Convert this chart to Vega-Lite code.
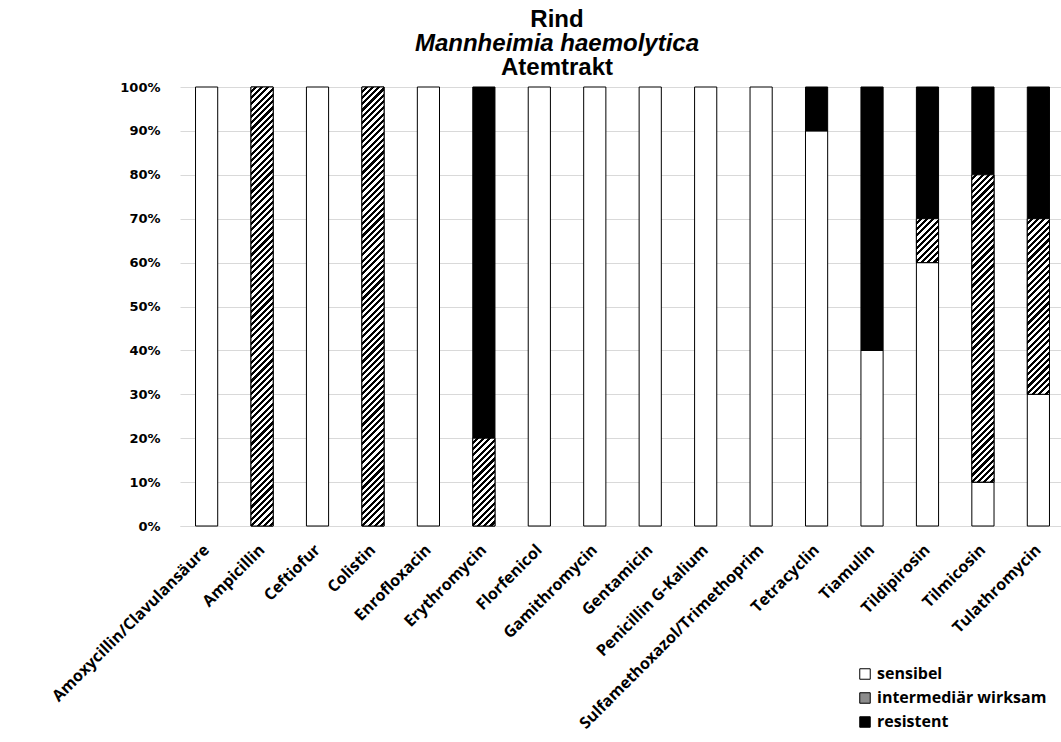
{
"$schema": "https://vega.github.io/schema/vega-lite/v6.json",
"padding": {"left": 49, "top": 8, "right": 0, "bottom": 0},
"background": "#ffffff",
"title": {"text": "Rind", "subtitle": "Mannheimia haemolytica", "anchor": "middle", "frame": "bounds", "font": "Liberation Sans", "fontSize": 24, "fontWeight": "bold", "color": "#000000", "subtitleFont": "Liberation Sans", "subtitleFontSize": 24, "subtitleFontStyle": "italic", "subtitleFontWeight": "bold", "subtitleColor": "#000000", "subtitlePadding": 0, "offset": 0},
"data": {"values": [
{"drug": "Amoxycillin/Clavulansäure", "cat": "sensibel", "k": 1, "p": 1},
{"drug": "Ampicillin", "cat": "intermediär wirksam", "k": 2, "p": 1},
{"drug": "Ceftiofur", "cat": "sensibel", "k": 1, "p": 1},
{"drug": "Colistin", "cat": "intermediär wirksam", "k": 2, "p": 1},
{"drug": "Enrofloxacin", "cat": "sensibel", "k": 1, "p": 1},
{"drug": "Erythromycin", "cat": "intermediär wirksam", "k": 2, "p": 0.2},
{"drug": "Erythromycin", "cat": "resistent", "k": 3, "p": 0.8},
{"drug": "Florfenicol", "cat": "sensibel", "k": 1, "p": 1},
{"drug": "Gamithromycin", "cat": "sensibel", "k": 1, "p": 1},
{"drug": "Gentamicin", "cat": "sensibel", "k": 1, "p": 1},
{"drug": "Penicillin G-Kalium", "cat": "sensibel", "k": 1, "p": 1},
{"drug": "Sulfamethoxazol/Trimethoprim", "cat": "sensibel", "k": 1, "p": 1},
{"drug": "Tetracyclin", "cat": "sensibel", "k": 1, "p": 0.9},
{"drug": "Tetracyclin", "cat": "resistent", "k": 3, "p": 0.1},
{"drug": "Tiamulin", "cat": "sensibel", "k": 1, "p": 0.4},
{"drug": "Tiamulin", "cat": "resistent", "k": 3, "p": 0.6},
{"drug": "Tildipirosin", "cat": "sensibel", "k": 1, "p": 0.6},
{"drug": "Tildipirosin", "cat": "intermediär wirksam", "k": 2, "p": 0.1},
{"drug": "Tildipirosin", "cat": "resistent", "k": 3, "p": 0.3},
{"drug": "Tilmicosin", "cat": "sensibel", "k": 1, "p": 0.1},
{"drug": "Tilmicosin", "cat": "intermediär wirksam", "k": 2, "p": 0.7},
{"drug": "Tilmicosin", "cat": "resistent", "k": 3, "p": 0.2},
{"drug": "Tulathromycin", "cat": "sensibel", "k": 1, "p": 0.3},
{"drug": "Tulathromycin", "cat": "intermediär wirksam", "k": 2, "p": 0.4},
{"drug": "Tulathromycin", "cat": "resistent", "k": 3, "p": 0.3}
]},
"vconcat": [{
"title": {"text": "Atemtrakt", "anchor": "middle", "frame": "bounds", "font": "Liberation Sans", "fontSize": 24, "fontWeight": "bold", "color": "#000000", "offset": 1},
"width": 885,
"height": 439,
"transform": [{"stack": "p", "groupby": ["drug"], "sort": [{"field": "k", "order": "ascending"}], "as": ["p0", "p1"]}],
"encoding": {
"x": {"field": "drug", "type": "nominal", "sort": ["Amoxycillin/Clavulansäure", "Ampicillin", "Ceftiofur", "Colistin", "Enrofloxacin", "Erythromycin", "Florfenicol", "Gamithromycin", "Gentamicin", "Penicillin G-Kalium", "Sulfamethoxazol/Trimethoprim", "Tetracyclin", "Tiamulin", "Tildipirosin", "Tilmicosin", "Tulathromycin"], "scale": {"paddingInner": 0.6, "paddingOuter": 0.28}, "axis": {"title": null, "labelAngle": -45, "labelAlign": "right", "labelBaseline": "middle", "labelFont": "Open Sans", "labelFontSize": 16, "labelFontWeight": "bold", "labelColor": "#000000", "labelPadding": 21, "labelLimit": 500, "labelOverlap": false, "labelBound": false, "ticks": false, "domain": true, "domainColor": "#d9d9d9", "grid": false}},
"y": {"field": "p1", "type": "quantitative", "scale": {"domain": [0, 1], "nice": false}, "axis": {"title": null, "values": [0, 0.1, 0.2, 0.3, 0.4, 0.5, 0.6, 0.7, 0.8, 0.9, 1], "format": ".0%", "labelFont": "DejaVu Sans", "labelFontSize": 13, "labelFontWeight": "bold", "labelColor": "#000000", "labelPadding": 20, "ticks": false, "domain": false, "grid": true, "gridColor": "#d9d9d9", "gridWidth": 1}},
"y2": {"field": "p0"}
},
"layer": [
{"mark": {"type": "bar", "stroke": "#000000", "strokeWidth": 1},
 "encoding": {
 "fill": {"field": "cat", "type": "nominal", "scale": {"domain": ["sensibel", "intermediär wirksam", "resistent"], "range": ["#ffffff", "#8c8c8c", "#000000"]},
 "legend": {"title": null, "orient": "none", "legendX": 677, "legendY": 579, "padding": 0, "labelFont": "Open Sans", "labelFontSize": 16, "labelFontWeight": "bold", "labelColor": "#000000", "labelOffset": 4, "labelLimit": 400, "symbolType": "square", "symbolSize": 110, "symbolStrokeColor": "#000000", "symbolStrokeWidth": 1, "symbolOpacity": 1, "rowPadding": 8,
 "encode": {"symbols": {"update": {"stroke": {"value": "#000000"}, "strokeWidth": {"value": 1}}}}}}}},
{"transform": [{"filter": {"field": "cat", "equal": "intermediär wirksam"}}, {"filter": {"field": "drug", "oneOf": ["Ampicillin", "Colistin"]}}],
 "mark": {"type": "bar", "stroke": "#000000", "strokeWidth": 1, "fill": {"gradient": "linear", "x1": 0, "y1": 0, "x2": 0.072321, "y2": 1.43142, "stops": [
{"offset":0,"color":"#fff"},
{"offset":0.005,"color":"#fff"},{"offset":0.005,"color":"#000"},{"offset":0.01,"color":"#000"},{"offset":0.01,"color":"#fff"},
{"offset":0.015,"color":"#fff"},{"offset":0.015,"color":"#000"},{"offset":0.02,"color":"#000"},{"offset":0.02,"color":"#fff"},
{"offset":0.025,"color":"#fff"},{"offset":0.025,"color":"#000"},{"offset":0.03,"color":"#000"},{"offset":0.03,"color":"#fff"},
{"offset":0.035,"color":"#fff"},{"offset":0.035,"color":"#000"},{"offset":0.04,"color":"#000"},{"offset":0.04,"color":"#fff"},
{"offset":0.045,"color":"#fff"},{"offset":0.045,"color":"#000"},{"offset":0.05,"color":"#000"},{"offset":0.05,"color":"#fff"},
{"offset":0.055,"color":"#fff"},{"offset":0.055,"color":"#000"},{"offset":0.06,"color":"#000"},{"offset":0.06,"color":"#fff"},
{"offset":0.065,"color":"#fff"},{"offset":0.065,"color":"#000"},{"offset":0.07,"color":"#000"},{"offset":0.07,"color":"#fff"},
{"offset":0.075,"color":"#fff"},{"offset":0.075,"color":"#000"},{"offset":0.08,"color":"#000"},{"offset":0.08,"color":"#fff"},
{"offset":0.085,"color":"#fff"},{"offset":0.085,"color":"#000"},{"offset":0.09,"color":"#000"},{"offset":0.09,"color":"#fff"},
{"offset":0.095,"color":"#fff"},{"offset":0.095,"color":"#000"},{"offset":0.1,"color":"#000"},{"offset":0.1,"color":"#fff"},
{"offset":0.105,"color":"#fff"},{"offset":0.105,"color":"#000"},{"offset":0.11,"color":"#000"},{"offset":0.11,"color":"#fff"},
{"offset":0.115,"color":"#fff"},{"offset":0.115,"color":"#000"},{"offset":0.12,"color":"#000"},{"offset":0.12,"color":"#fff"},
{"offset":0.125,"color":"#fff"},{"offset":0.125,"color":"#000"},{"offset":0.13,"color":"#000"},{"offset":0.13,"color":"#fff"},
{"offset":0.135,"color":"#fff"},{"offset":0.135,"color":"#000"},{"offset":0.14,"color":"#000"},{"offset":0.14,"color":"#fff"},
{"offset":0.145,"color":"#fff"},{"offset":0.145,"color":"#000"},{"offset":0.15,"color":"#000"},{"offset":0.15,"color":"#fff"},
{"offset":0.155,"color":"#fff"},{"offset":0.155,"color":"#000"},{"offset":0.16,"color":"#000"},{"offset":0.16,"color":"#fff"},
{"offset":0.165,"color":"#fff"},{"offset":0.165,"color":"#000"},{"offset":0.17,"color":"#000"},{"offset":0.17,"color":"#fff"},
{"offset":0.175,"color":"#fff"},{"offset":0.175,"color":"#000"},{"offset":0.18,"color":"#000"},{"offset":0.18,"color":"#fff"},
{"offset":0.185,"color":"#fff"},{"offset":0.185,"color":"#000"},{"offset":0.19,"color":"#000"},{"offset":0.19,"color":"#fff"},
{"offset":0.195,"color":"#fff"},{"offset":0.195,"color":"#000"},{"offset":0.2,"color":"#000"},{"offset":0.2,"color":"#fff"},
{"offset":0.205,"color":"#fff"},{"offset":0.205,"color":"#000"},{"offset":0.21,"color":"#000"},{"offset":0.21,"color":"#fff"},
{"offset":0.215,"color":"#fff"},{"offset":0.215,"color":"#000"},{"offset":0.22,"color":"#000"},{"offset":0.22,"color":"#fff"},
{"offset":0.225,"color":"#fff"},{"offset":0.225,"color":"#000"},{"offset":0.23,"color":"#000"},{"offset":0.23,"color":"#fff"},
{"offset":0.235,"color":"#fff"},{"offset":0.235,"color":"#000"},{"offset":0.24,"color":"#000"},{"offset":0.24,"color":"#fff"},
{"offset":0.245,"color":"#fff"},{"offset":0.245,"color":"#000"},{"offset":0.25,"color":"#000"},{"offset":0.25,"color":"#fff"},
{"offset":0.255,"color":"#fff"},{"offset":0.255,"color":"#000"},{"offset":0.26,"color":"#000"},{"offset":0.26,"color":"#fff"},
{"offset":0.265,"color":"#fff"},{"offset":0.265,"color":"#000"},{"offset":0.27,"color":"#000"},{"offset":0.27,"color":"#fff"},
{"offset":0.275,"color":"#fff"},{"offset":0.275,"color":"#000"},{"offset":0.28,"color":"#000"},{"offset":0.28,"color":"#fff"},
{"offset":0.285,"color":"#fff"},{"offset":0.285,"color":"#000"},{"offset":0.29,"color":"#000"},{"offset":0.29,"color":"#fff"},
{"offset":0.295,"color":"#fff"},{"offset":0.295,"color":"#000"},{"offset":0.3,"color":"#000"},{"offset":0.3,"color":"#fff"},
{"offset":0.305,"color":"#fff"},{"offset":0.305,"color":"#000"},{"offset":0.31,"color":"#000"},{"offset":0.31,"color":"#fff"},
{"offset":0.315,"color":"#fff"},{"offset":0.315,"color":"#000"},{"offset":0.32,"color":"#000"},{"offset":0.32,"color":"#fff"},
{"offset":0.325,"color":"#fff"},{"offset":0.325,"color":"#000"},{"offset":0.33,"color":"#000"},{"offset":0.33,"color":"#fff"},
{"offset":0.335,"color":"#fff"},{"offset":0.335,"color":"#000"},{"offset":0.34,"color":"#000"},{"offset":0.34,"color":"#fff"},
{"offset":0.345,"color":"#fff"},{"offset":0.345,"color":"#000"},{"offset":0.35,"color":"#000"},{"offset":0.35,"color":"#fff"},
{"offset":0.355,"color":"#fff"},{"offset":0.355,"color":"#000"},{"offset":0.36,"color":"#000"},{"offset":0.36,"color":"#fff"},
{"offset":0.365,"color":"#fff"},{"offset":0.365,"color":"#000"},{"offset":0.37,"color":"#000"},{"offset":0.37,"color":"#fff"},
{"offset":0.375,"color":"#fff"},{"offset":0.375,"color":"#000"},{"offset":0.38,"color":"#000"},{"offset":0.38,"color":"#fff"},
{"offset":0.385,"color":"#fff"},{"offset":0.385,"color":"#000"},{"offset":0.39,"color":"#000"},{"offset":0.39,"color":"#fff"},
{"offset":0.395,"color":"#fff"},{"offset":0.395,"color":"#000"},{"offset":0.4,"color":"#000"},{"offset":0.4,"color":"#fff"},
{"offset":0.405,"color":"#fff"},{"offset":0.405,"color":"#000"},{"offset":0.41,"color":"#000"},{"offset":0.41,"color":"#fff"},
{"offset":0.415,"color":"#fff"},{"offset":0.415,"color":"#000"},{"offset":0.42,"color":"#000"},{"offset":0.42,"color":"#fff"},
{"offset":0.425,"color":"#fff"},{"offset":0.425,"color":"#000"},{"offset":0.43,"color":"#000"},{"offset":0.43,"color":"#fff"},
{"offset":0.435,"color":"#fff"},{"offset":0.435,"color":"#000"},{"offset":0.44,"color":"#000"},{"offset":0.44,"color":"#fff"},
{"offset":0.445,"color":"#fff"},{"offset":0.445,"color":"#000"},{"offset":0.45,"color":"#000"},{"offset":0.45,"color":"#fff"},
{"offset":0.455,"color":"#fff"},{"offset":0.455,"color":"#000"},{"offset":0.46,"color":"#000"},{"offset":0.46,"color":"#fff"},
{"offset":0.465,"color":"#fff"},{"offset":0.465,"color":"#000"},{"offset":0.47,"color":"#000"},{"offset":0.47,"color":"#fff"},
{"offset":0.475,"color":"#fff"},{"offset":0.475,"color":"#000"},{"offset":0.48,"color":"#000"},{"offset":0.48,"color":"#fff"},
{"offset":0.485,"color":"#fff"},{"offset":0.485,"color":"#000"},{"offset":0.49,"color":"#000"},{"offset":0.49,"color":"#fff"},
{"offset":0.495,"color":"#fff"},{"offset":0.495,"color":"#000"},{"offset":0.5,"color":"#000"},{"offset":0.5,"color":"#fff"},
{"offset":0.505,"color":"#fff"},{"offset":0.505,"color":"#000"},{"offset":0.51,"color":"#000"},{"offset":0.51,"color":"#fff"},
{"offset":0.515,"color":"#fff"},{"offset":0.515,"color":"#000"},{"offset":0.52,"color":"#000"},{"offset":0.52,"color":"#fff"},
{"offset":0.525,"color":"#fff"},{"offset":0.525,"color":"#000"},{"offset":0.53,"color":"#000"},{"offset":0.53,"color":"#fff"},
{"offset":0.535,"color":"#fff"},{"offset":0.535,"color":"#000"},{"offset":0.54,"color":"#000"},{"offset":0.54,"color":"#fff"},
{"offset":0.545,"color":"#fff"},{"offset":0.545,"color":"#000"},{"offset":0.55,"color":"#000"},{"offset":0.55,"color":"#fff"},
{"offset":0.555,"color":"#fff"},{"offset":0.555,"color":"#000"},{"offset":0.56,"color":"#000"},{"offset":0.56,"color":"#fff"},
{"offset":0.565,"color":"#fff"},{"offset":0.565,"color":"#000"},{"offset":0.57,"color":"#000"},{"offset":0.57,"color":"#fff"},
{"offset":0.575,"color":"#fff"},{"offset":0.575,"color":"#000"},{"offset":0.58,"color":"#000"},{"offset":0.58,"color":"#fff"},
{"offset":0.585,"color":"#fff"},{"offset":0.585,"color":"#000"},{"offset":0.59,"color":"#000"},{"offset":0.59,"color":"#fff"},
{"offset":0.595,"color":"#fff"},{"offset":0.595,"color":"#000"},{"offset":0.6,"color":"#000"},{"offset":0.6,"color":"#fff"},
{"offset":0.605,"color":"#fff"},{"offset":0.605,"color":"#000"},{"offset":0.61,"color":"#000"},{"offset":0.61,"color":"#fff"},
{"offset":0.615,"color":"#fff"},{"offset":0.615,"color":"#000"},{"offset":0.62,"color":"#000"},{"offset":0.62,"color":"#fff"},
{"offset":0.625,"color":"#fff"},{"offset":0.625,"color":"#000"},{"offset":0.63,"color":"#000"},{"offset":0.63,"color":"#fff"},
{"offset":0.635,"color":"#fff"},{"offset":0.635,"color":"#000"},{"offset":0.64,"color":"#000"},{"offset":0.64,"color":"#fff"},
{"offset":0.645,"color":"#fff"},{"offset":0.645,"color":"#000"},{"offset":0.65,"color":"#000"},{"offset":0.65,"color":"#fff"},
{"offset":0.655,"color":"#fff"},{"offset":0.655,"color":"#000"},{"offset":0.66,"color":"#000"},{"offset":0.66,"color":"#fff"},
{"offset":0.665,"color":"#fff"},{"offset":0.665,"color":"#000"},{"offset":0.67,"color":"#000"},{"offset":0.67,"color":"#fff"},
{"offset":0.675,"color":"#fff"},{"offset":0.675,"color":"#000"},{"offset":0.68,"color":"#000"},{"offset":0.68,"color":"#fff"},
{"offset":0.685,"color":"#fff"},{"offset":0.685,"color":"#000"},{"offset":0.69,"color":"#000"},{"offset":0.69,"color":"#fff"},
{"offset":0.695,"color":"#fff"},{"offset":0.695,"color":"#000"},{"offset":0.7,"color":"#000"},{"offset":0.7,"color":"#fff"},
{"offset":0.705,"color":"#fff"},{"offset":0.705,"color":"#000"},{"offset":0.71,"color":"#000"},{"offset":0.71,"color":"#fff"},
{"offset":0.715,"color":"#fff"},{"offset":0.715,"color":"#000"},{"offset":0.72,"color":"#000"},{"offset":0.72,"color":"#fff"},
{"offset":0.725,"color":"#fff"},{"offset":0.725,"color":"#000"},{"offset":0.73,"color":"#000"},{"offset":0.73,"color":"#fff"},
{"offset":0.735,"color":"#fff"},{"offset":0.735,"color":"#000"}
]}}},
{"transform": [{"filter": {"field": "cat", "equal": "intermediär wirksam"}}, {"filter": {"field": "drug", "equal": "Tilmicosin"}}],
 "mark": {"type": "bar", "stroke": "#000000", "strokeWidth": 1, "fill": {"gradient": "linear", "x1": 0, "y1": 0, "x2": 0.147204, "y2": 2.03949, "stops": [
{"offset":0,"color":"#fff"},
{"offset":0.005,"color":"#fff"},{"offset":0.005,"color":"#000"},{"offset":0.01,"color":"#000"},{"offset":0.01,"color":"#fff"},
{"offset":0.015,"color":"#fff"},{"offset":0.015,"color":"#000"},{"offset":0.02,"color":"#000"},{"offset":0.02,"color":"#fff"},
{"offset":0.025,"color":"#fff"},{"offset":0.025,"color":"#000"},{"offset":0.03,"color":"#000"},{"offset":0.03,"color":"#fff"},
{"offset":0.035,"color":"#fff"},{"offset":0.035,"color":"#000"},{"offset":0.04,"color":"#000"},{"offset":0.04,"color":"#fff"},
{"offset":0.045,"color":"#fff"},{"offset":0.045,"color":"#000"},{"offset":0.05,"color":"#000"},{"offset":0.05,"color":"#fff"},
{"offset":0.055,"color":"#fff"},{"offset":0.055,"color":"#000"},{"offset":0.06,"color":"#000"},{"offset":0.06,"color":"#fff"},
{"offset":0.065,"color":"#fff"},{"offset":0.065,"color":"#000"},{"offset":0.07,"color":"#000"},{"offset":0.07,"color":"#fff"},
{"offset":0.075,"color":"#fff"},{"offset":0.075,"color":"#000"},{"offset":0.08,"color":"#000"},{"offset":0.08,"color":"#fff"},
{"offset":0.085,"color":"#fff"},{"offset":0.085,"color":"#000"},{"offset":0.09,"color":"#000"},{"offset":0.09,"color":"#fff"},
{"offset":0.095,"color":"#fff"},{"offset":0.095,"color":"#000"},{"offset":0.1,"color":"#000"},{"offset":0.1,"color":"#fff"},
{"offset":0.105,"color":"#fff"},{"offset":0.105,"color":"#000"},{"offset":0.11,"color":"#000"},{"offset":0.11,"color":"#fff"},
{"offset":0.115,"color":"#fff"},{"offset":0.115,"color":"#000"},{"offset":0.12,"color":"#000"},{"offset":0.12,"color":"#fff"},
{"offset":0.125,"color":"#fff"},{"offset":0.125,"color":"#000"},{"offset":0.13,"color":"#000"},{"offset":0.13,"color":"#fff"},
{"offset":0.135,"color":"#fff"},{"offset":0.135,"color":"#000"},{"offset":0.14,"color":"#000"},{"offset":0.14,"color":"#fff"},
{"offset":0.145,"color":"#fff"},{"offset":0.145,"color":"#000"},{"offset":0.15,"color":"#000"},{"offset":0.15,"color":"#fff"},
{"offset":0.155,"color":"#fff"},{"offset":0.155,"color":"#000"},{"offset":0.16,"color":"#000"},{"offset":0.16,"color":"#fff"},
{"offset":0.165,"color":"#fff"},{"offset":0.165,"color":"#000"},{"offset":0.17,"color":"#000"},{"offset":0.17,"color":"#fff"},
{"offset":0.175,"color":"#fff"},{"offset":0.175,"color":"#000"},{"offset":0.18,"color":"#000"},{"offset":0.18,"color":"#fff"},
{"offset":0.185,"color":"#fff"},{"offset":0.185,"color":"#000"},{"offset":0.19,"color":"#000"},{"offset":0.19,"color":"#fff"},
{"offset":0.195,"color":"#fff"},{"offset":0.195,"color":"#000"},{"offset":0.2,"color":"#000"},{"offset":0.2,"color":"#fff"},
{"offset":0.205,"color":"#fff"},{"offset":0.205,"color":"#000"},{"offset":0.21,"color":"#000"},{"offset":0.21,"color":"#fff"},
{"offset":0.215,"color":"#fff"},{"offset":0.215,"color":"#000"},{"offset":0.22,"color":"#000"},{"offset":0.22,"color":"#fff"},
{"offset":0.225,"color":"#fff"},{"offset":0.225,"color":"#000"},{"offset":0.23,"color":"#000"},{"offset":0.23,"color":"#fff"},
{"offset":0.235,"color":"#fff"},{"offset":0.235,"color":"#000"},{"offset":0.24,"color":"#000"},{"offset":0.24,"color":"#fff"},
{"offset":0.245,"color":"#fff"},{"offset":0.245,"color":"#000"},{"offset":0.25,"color":"#000"},{"offset":0.25,"color":"#fff"},
{"offset":0.255,"color":"#fff"},{"offset":0.255,"color":"#000"},{"offset":0.26,"color":"#000"},{"offset":0.26,"color":"#fff"},
{"offset":0.265,"color":"#fff"},{"offset":0.265,"color":"#000"},{"offset":0.27,"color":"#000"},{"offset":0.27,"color":"#fff"},
{"offset":0.275,"color":"#fff"},{"offset":0.275,"color":"#000"},{"offset":0.28,"color":"#000"},{"offset":0.28,"color":"#fff"},
{"offset":0.285,"color":"#fff"},{"offset":0.285,"color":"#000"},{"offset":0.29,"color":"#000"},{"offset":0.29,"color":"#fff"},
{"offset":0.295,"color":"#fff"},{"offset":0.295,"color":"#000"},{"offset":0.3,"color":"#000"},{"offset":0.3,"color":"#fff"},
{"offset":0.305,"color":"#fff"},{"offset":0.305,"color":"#000"},{"offset":0.31,"color":"#000"},{"offset":0.31,"color":"#fff"},
{"offset":0.315,"color":"#fff"},{"offset":0.315,"color":"#000"},{"offset":0.32,"color":"#000"},{"offset":0.32,"color":"#fff"},
{"offset":0.325,"color":"#fff"},{"offset":0.325,"color":"#000"},{"offset":0.33,"color":"#000"},{"offset":0.33,"color":"#fff"},
{"offset":0.335,"color":"#fff"},{"offset":0.335,"color":"#000"},{"offset":0.34,"color":"#000"},{"offset":0.34,"color":"#fff"},
{"offset":0.345,"color":"#fff"},{"offset":0.345,"color":"#000"},{"offset":0.35,"color":"#000"},{"offset":0.35,"color":"#fff"},
{"offset":0.355,"color":"#fff"},{"offset":0.355,"color":"#000"},{"offset":0.36,"color":"#000"},{"offset":0.36,"color":"#fff"},
{"offset":0.365,"color":"#fff"},{"offset":0.365,"color":"#000"},{"offset":0.37,"color":"#000"},{"offset":0.37,"color":"#fff"},
{"offset":0.375,"color":"#fff"},{"offset":0.375,"color":"#000"},{"offset":0.38,"color":"#000"},{"offset":0.38,"color":"#fff"},
{"offset":0.385,"color":"#fff"},{"offset":0.385,"color":"#000"},{"offset":0.39,"color":"#000"},{"offset":0.39,"color":"#fff"},
{"offset":0.395,"color":"#fff"},{"offset":0.395,"color":"#000"},{"offset":0.4,"color":"#000"},{"offset":0.4,"color":"#fff"},
{"offset":0.405,"color":"#fff"},{"offset":0.405,"color":"#000"},{"offset":0.41,"color":"#000"},{"offset":0.41,"color":"#fff"},
{"offset":0.415,"color":"#fff"},{"offset":0.415,"color":"#000"},{"offset":0.42,"color":"#000"},{"offset":0.42,"color":"#fff"},
{"offset":0.425,"color":"#fff"},{"offset":0.425,"color":"#000"},{"offset":0.43,"color":"#000"},{"offset":0.43,"color":"#fff"},
{"offset":0.435,"color":"#fff"},{"offset":0.435,"color":"#000"},{"offset":0.44,"color":"#000"},{"offset":0.44,"color":"#fff"},
{"offset":0.445,"color":"#fff"},{"offset":0.445,"color":"#000"},{"offset":0.45,"color":"#000"},{"offset":0.45,"color":"#fff"},
{"offset":0.455,"color":"#fff"},{"offset":0.455,"color":"#000"},{"offset":0.46,"color":"#000"},{"offset":0.46,"color":"#fff"},
{"offset":0.465,"color":"#fff"},{"offset":0.465,"color":"#000"},{"offset":0.47,"color":"#000"},{"offset":0.47,"color":"#fff"},
{"offset":0.475,"color":"#fff"},{"offset":0.475,"color":"#000"},{"offset":0.48,"color":"#000"},{"offset":0.48,"color":"#fff"},
{"offset":0.485,"color":"#fff"},{"offset":0.485,"color":"#000"},{"offset":0.49,"color":"#000"},{"offset":0.49,"color":"#fff"},
{"offset":0.495,"color":"#fff"},{"offset":0.495,"color":"#000"},{"offset":0.5,"color":"#000"},{"offset":0.5,"color":"#fff"},
{"offset":0.505,"color":"#fff"},{"offset":0.505,"color":"#000"},{"offset":0.51,"color":"#000"},{"offset":0.51,"color":"#fff"},
{"offset":0.515,"color":"#fff"},{"offset":0.515,"color":"#000"},{"offset":0.52,"color":"#000"},{"offset":0.52,"color":"#fff"},
{"offset":0.525,"color":"#fff"},{"offset":0.525,"color":"#000"}
]}}},
{"transform": [{"filter": {"field": "cat", "equal": "intermediär wirksam"}}, {"filter": {"field": "drug", "equal": "Tulathromycin"}}],
 "mark": {"type": "bar", "stroke": "#000000", "strokeWidth": 1, "fill": {"gradient": "linear", "x1": 0, "y1": 0, "x2": 0.44605, "y2": 3.53139, "stops": [
{"offset":0,"color":"#fff"},
{"offset":0.005,"color":"#fff"},{"offset":0.005,"color":"#000"},{"offset":0.01,"color":"#000"},{"offset":0.01,"color":"#fff"},
{"offset":0.015,"color":"#fff"},{"offset":0.015,"color":"#000"},{"offset":0.02,"color":"#000"},{"offset":0.02,"color":"#fff"},
{"offset":0.025,"color":"#fff"},{"offset":0.025,"color":"#000"},{"offset":0.03,"color":"#000"},{"offset":0.03,"color":"#fff"},
{"offset":0.035,"color":"#fff"},{"offset":0.035,"color":"#000"},{"offset":0.04,"color":"#000"},{"offset":0.04,"color":"#fff"},
{"offset":0.045,"color":"#fff"},{"offset":0.045,"color":"#000"},{"offset":0.05,"color":"#000"},{"offset":0.05,"color":"#fff"},
{"offset":0.055,"color":"#fff"},{"offset":0.055,"color":"#000"},{"offset":0.06,"color":"#000"},{"offset":0.06,"color":"#fff"},
{"offset":0.065,"color":"#fff"},{"offset":0.065,"color":"#000"},{"offset":0.07,"color":"#000"},{"offset":0.07,"color":"#fff"},
{"offset":0.075,"color":"#fff"},{"offset":0.075,"color":"#000"},{"offset":0.08,"color":"#000"},{"offset":0.08,"color":"#fff"},
{"offset":0.085,"color":"#fff"},{"offset":0.085,"color":"#000"},{"offset":0.09,"color":"#000"},{"offset":0.09,"color":"#fff"},
{"offset":0.095,"color":"#fff"},{"offset":0.095,"color":"#000"},{"offset":0.1,"color":"#000"},{"offset":0.1,"color":"#fff"},
{"offset":0.105,"color":"#fff"},{"offset":0.105,"color":"#000"},{"offset":0.11,"color":"#000"},{"offset":0.11,"color":"#fff"},
{"offset":0.115,"color":"#fff"},{"offset":0.115,"color":"#000"},{"offset":0.12,"color":"#000"},{"offset":0.12,"color":"#fff"},
{"offset":0.125,"color":"#fff"},{"offset":0.125,"color":"#000"},{"offset":0.13,"color":"#000"},{"offset":0.13,"color":"#fff"},
{"offset":0.135,"color":"#fff"},{"offset":0.135,"color":"#000"},{"offset":0.14,"color":"#000"},{"offset":0.14,"color":"#fff"},
{"offset":0.145,"color":"#fff"},{"offset":0.145,"color":"#000"},{"offset":0.15,"color":"#000"},{"offset":0.15,"color":"#fff"},
{"offset":0.155,"color":"#fff"},{"offset":0.155,"color":"#000"},{"offset":0.16,"color":"#000"},{"offset":0.16,"color":"#fff"},
{"offset":0.165,"color":"#fff"},{"offset":0.165,"color":"#000"},{"offset":0.17,"color":"#000"},{"offset":0.17,"color":"#fff"},
{"offset":0.175,"color":"#fff"},{"offset":0.175,"color":"#000"},{"offset":0.18,"color":"#000"},{"offset":0.18,"color":"#fff"},
{"offset":0.185,"color":"#fff"},{"offset":0.185,"color":"#000"},{"offset":0.19,"color":"#000"},{"offset":0.19,"color":"#fff"},
{"offset":0.195,"color":"#fff"},{"offset":0.195,"color":"#000"},{"offset":0.2,"color":"#000"},{"offset":0.2,"color":"#fff"},
{"offset":0.205,"color":"#fff"},{"offset":0.205,"color":"#000"},{"offset":0.21,"color":"#000"},{"offset":0.21,"color":"#fff"},
{"offset":0.215,"color":"#fff"},{"offset":0.215,"color":"#000"},{"offset":0.22,"color":"#000"},{"offset":0.22,"color":"#fff"},
{"offset":0.225,"color":"#fff"},{"offset":0.225,"color":"#000"},{"offset":0.23,"color":"#000"},{"offset":0.23,"color":"#fff"},
{"offset":0.235,"color":"#fff"},{"offset":0.235,"color":"#000"},{"offset":0.24,"color":"#000"},{"offset":0.24,"color":"#fff"},
{"offset":0.245,"color":"#fff"},{"offset":0.245,"color":"#000"},{"offset":0.25,"color":"#000"},{"offset":0.25,"color":"#fff"},
{"offset":0.255,"color":"#fff"},{"offset":0.255,"color":"#000"},{"offset":0.26,"color":"#000"},{"offset":0.26,"color":"#fff"},
{"offset":0.265,"color":"#fff"},{"offset":0.265,"color":"#000"},{"offset":0.27,"color":"#000"},{"offset":0.27,"color":"#fff"},
{"offset":0.275,"color":"#fff"},{"offset":0.275,"color":"#000"},{"offset":0.28,"color":"#000"},{"offset":0.28,"color":"#fff"},
{"offset":0.285,"color":"#fff"},{"offset":0.285,"color":"#000"},{"offset":0.29,"color":"#000"},{"offset":0.29,"color":"#fff"},
{"offset":0.295,"color":"#fff"},{"offset":0.295,"color":"#000"},{"offset":0.3,"color":"#000"},{"offset":0.3,"color":"#fff"},
{"offset":0.305,"color":"#fff"},{"offset":0.305,"color":"#000"},{"offset":0.31,"color":"#000"},{"offset":0.31,"color":"#fff"},
{"offset":0.315,"color":"#fff"},{"offset":0.315,"color":"#000"}
]}}},
{"transform": [{"filter": {"field": "cat", "equal": "intermediär wirksam"}}, {"filter": {"field": "drug", "equal": "Erythromycin"}}],
 "mark": {"type": "bar", "stroke": "#000000", "strokeWidth": 1, "fill": {"gradient": "linear", "x1": 0, "y1": 0, "x2": 1.70386, "y2": 6.74475, "stops": [
{"offset":0,"color":"#fff"},
{"offset":0.005,"color":"#fff"},{"offset":0.005,"color":"#000"},{"offset":0.01,"color":"#000"},{"offset":0.01,"color":"#fff"},
{"offset":0.015,"color":"#fff"},{"offset":0.015,"color":"#000"},{"offset":0.02,"color":"#000"},{"offset":0.02,"color":"#fff"},
{"offset":0.025,"color":"#fff"},{"offset":0.025,"color":"#000"},{"offset":0.03,"color":"#000"},{"offset":0.03,"color":"#fff"},
{"offset":0.035,"color":"#fff"},{"offset":0.035,"color":"#000"},{"offset":0.04,"color":"#000"},{"offset":0.04,"color":"#fff"},
{"offset":0.045,"color":"#fff"},{"offset":0.045,"color":"#000"},{"offset":0.05,"color":"#000"},{"offset":0.05,"color":"#fff"},
{"offset":0.055,"color":"#fff"},{"offset":0.055,"color":"#000"},{"offset":0.06,"color":"#000"},{"offset":0.06,"color":"#fff"},
{"offset":0.065,"color":"#fff"},{"offset":0.065,"color":"#000"},{"offset":0.07,"color":"#000"},{"offset":0.07,"color":"#fff"},
{"offset":0.075,"color":"#fff"},{"offset":0.075,"color":"#000"},{"offset":0.08,"color":"#000"},{"offset":0.08,"color":"#fff"},
{"offset":0.085,"color":"#fff"},{"offset":0.085,"color":"#000"},{"offset":0.09,"color":"#000"},{"offset":0.09,"color":"#fff"},
{"offset":0.095,"color":"#fff"},{"offset":0.095,"color":"#000"},{"offset":0.1,"color":"#000"},{"offset":0.1,"color":"#fff"},
{"offset":0.105,"color":"#fff"},{"offset":0.105,"color":"#000"},{"offset":0.11,"color":"#000"},{"offset":0.11,"color":"#fff"},
{"offset":0.115,"color":"#fff"},{"offset":0.115,"color":"#000"},{"offset":0.12,"color":"#000"},{"offset":0.12,"color":"#fff"},
{"offset":0.125,"color":"#fff"},{"offset":0.125,"color":"#000"},{"offset":0.13,"color":"#000"},{"offset":0.13,"color":"#fff"},
{"offset":0.135,"color":"#fff"},{"offset":0.135,"color":"#000"},{"offset":0.14,"color":"#000"},{"offset":0.14,"color":"#fff"},
{"offset":0.145,"color":"#fff"},{"offset":0.145,"color":"#000"},{"offset":0.15,"color":"#000"},{"offset":0.15,"color":"#fff"},
{"offset":0.155,"color":"#fff"},{"offset":0.155,"color":"#000"},{"offset":0.16,"color":"#000"},{"offset":0.16,"color":"#fff"},
{"offset":0.165,"color":"#fff"},{"offset":0.165,"color":"#000"},{"offset":0.17,"color":"#000"},{"offset":0.17,"color":"#fff"},
{"offset":0.175,"color":"#fff"},{"offset":0.175,"color":"#000"},{"offset":0.18,"color":"#000"},{"offset":0.18,"color":"#fff"}
]}}},
{"transform": [{"filter": {"field": "cat", "equal": "intermediär wirksam"}}, {"filter": {"field": "drug", "equal": "Tildipirosin"}}],
 "mark": {"type": "bar", "stroke": "#000000", "strokeWidth": 1, "fill": {"gradient": "linear", "x1": 0, "y1": 0, "x2": 5.77651, "y2": 11.4332, "stops": [
{"offset":0,"color":"#fff"},
{"offset":0.005,"color":"#fff"},{"offset":0.005,"color":"#000"},{"offset":0.01,"color":"#000"},{"offset":0.01,"color":"#fff"},
{"offset":0.015,"color":"#fff"},{"offset":0.015,"color":"#000"},{"offset":0.02,"color":"#000"},{"offset":0.02,"color":"#fff"},
{"offset":0.025,"color":"#fff"},{"offset":0.025,"color":"#000"},{"offset":0.03,"color":"#000"},{"offset":0.03,"color":"#fff"},
{"offset":0.035,"color":"#fff"},{"offset":0.035,"color":"#000"},{"offset":0.04,"color":"#000"},{"offset":0.04,"color":"#fff"},
{"offset":0.045,"color":"#fff"},{"offset":0.045,"color":"#000"},{"offset":0.05,"color":"#000"},{"offset":0.05,"color":"#fff"},
{"offset":0.055,"color":"#fff"},{"offset":0.055,"color":"#000"},{"offset":0.06,"color":"#000"},{"offset":0.06,"color":"#fff"},
{"offset":0.065,"color":"#fff"},{"offset":0.065,"color":"#000"},{"offset":0.07,"color":"#000"},{"offset":0.07,"color":"#fff"},
{"offset":0.075,"color":"#fff"},{"offset":0.075,"color":"#000"},{"offset":0.08,"color":"#000"},{"offset":0.08,"color":"#fff"},
{"offset":0.085,"color":"#fff"},{"offset":0.085,"color":"#000"},{"offset":0.09,"color":"#000"},{"offset":0.09,"color":"#fff"},
{"offset":0.095,"color":"#fff"},{"offset":0.095,"color":"#000"},{"offset":0.1,"color":"#000"},{"offset":0.1,"color":"#fff"},
{"offset":0.105,"color":"#fff"},{"offset":0.105,"color":"#000"},{"offset":0.11,"color":"#000"},{"offset":0.11,"color":"#fff"}
]}}}
]
}],
"config": {"view": {"stroke": null}}
}
